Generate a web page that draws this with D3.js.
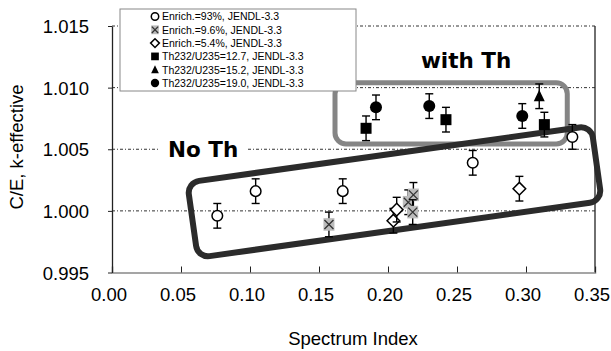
<!DOCTYPE html>
<html lang="en">
<head>
<meta charset="UTF-8">
<title>C/E k-effective vs spectrum index</title>
<script src="https://cdn.jsdelivr.net/npm/d3@7"></script>
<style>
  body { margin: 0; background: #fff; }
  text { font-family: "Liberation Sans", Arial, sans-serif; fill: #000; }
  .grid { stroke: #333; stroke-width: 1; stroke-dasharray: 3,2,1,2; }
  .bar { stroke: #000; stroke-width: 1.4; }
  .note { font-family: "DejaVu Sans", sans-serif; font-weight: bold; font-size: 21.5px; }
</style>
</head>
<body>
<svg width="611" height="351"></svg>
<script>
// data
let xTicks = [0.00, 0.05, 0.10, 0.15, 0.20, 0.25, 0.30, 0.35];
let yTicks = [0.995, 1.000, 1.005, 1.010, 1.015];

let enrich93_x = [0.0763, 0.1041, 0.1672, 0.2614, 0.3336];
let enrich93_y = [0.9996, 1.0016, 1.0016, 1.0039, 1.0060];
let enrich96_x = [0.1572, 0.2147, 0.2184, 0.2179];
let enrich96_y = [0.9989, 1.0007, 1.0013, 0.9999];
let enrich54_x = [0.2039, 0.2063, 0.2952];
let enrich54_y = [0.9992, 1.0001, 1.0018];
let th127_x = [0.1841, 0.2420, 0.3133];
let th127_y = [1.0067, 1.0074, 1.0070];
let th152_x = [0.3096];
let th152_y = [1.0093];
let th190_x = [0.1913, 0.2299, 0.2973];
let th190_y = [1.0084, 1.0085, 1.0077];
let errBar = 0.001;

let legendLabels = ["Enrich.=93%, JENDL-3.3", "Enrich.=9.6%, JENDL-3.3", "Enrich.=5.4%, JENDL-3.3",
  "Th232/U235=12.7, JENDL-3.3", "Th232/U235=15.2, JENDL-3.3", "Th232/U235=19.0, JENDL-3.3"];
let legendMarks = ["ocircle", "cross", "diamond", "square", "triangle", "circle"];

let svg = d3.select('svg');
let xScale = d3.scaleLinear().domain([0, 0.35]).range([112, 595]);
let yScale = d3.scaleLinear().domain([0.995, 1.015]).range([272.5, 26]);

// grid lines
svg.append('g').selectAll('line').data(yTicks.slice(1)).join('line')
  .attr('class', 'grid')
  .attr('x1', xScale(0)).attr('x2', xScale(0.35))
  .attr('y1', d => yScale(d)).attr('y2', d => yScale(d));

// frame
svg.append('line').attr('x1', xScale(0.35)).attr('x2', xScale(0.35))
  .attr('y1', yScale(1.015)).attr('y2', yScale(0.995)).attr('stroke', '#222').attr('stroke-width', 1.3);

let xAxis = svg.append('g').attr('transform', `translate(0,${yScale(0.995)})`)
  .call(d3.axisTop(xScale).tickValues(xTicks).tickSize(6).tickFormat(''));
xAxis.select('.domain').attr('stroke', '#888').attr('stroke-width', 1.5);
xAxis.selectAll('.tick line').attr('stroke', '#222');

svg.append('g').selectAll('text').data(xTicks).join('text')
  .attr('x', d => xScale(d) - 3).attr('y', 301)
  .attr('text-anchor', 'middle').attr('font-size', 18.5)
  .text(d => d3.format('.2f')(d));

let yAxis = svg.append('g').attr('transform', `translate(${xScale(0)},0)`)
  .call(d3.axisLeft(yScale).tickValues(yTicks).tickSize(4).tickSizeOuter(0).tickFormat(''));
yAxis.select('.domain').attr('stroke', '#222').attr('stroke-width', 1.3);
yAxis.selectAll('.tick line').attr('stroke', '#222');

svg.append('g').selectAll('text').data(yTicks).join('text')
  .attr('x', 89).attr('y', d => yScale(d) + 7)
  .attr('text-anchor', 'end').attr('font-size', 18.5)
  .text(d => d3.format('.3f')(d));

svg.append('text').attr('x', 353).attr('y', 345).attr('text-anchor', 'middle')
  .attr('font-size', 18.5).text('Spectrum Index');
svg.append('text').attr('transform', 'translate(23,147) rotate(-90)')
  .attr('text-anchor', 'middle').attr('font-size', 18.5).text('C/E, k-effective');

// annotation boxes
svg.append('rect')
  .attr('x', xScale(0.1616)).attr('y', yScale(1.0104))
  .attr('width', xScale(0.3299) - xScale(0.1616)).attr('height', yScale(1.00543) - yScale(1.0104))
  .attr('rx', 11).attr('fill', 'none').attr('stroke', '#858585').attr('stroke-width', 5);

let noThW = 408, noThH = 76;
svg.append('rect')
  .attr('transform', `translate(${xScale(0.2047)},${yScale(1.00155)}) rotate(-8)`)
  .attr('x', -noThW / 2).attr('y', -noThH / 2).attr('width', noThW).attr('height', noThH)
  .attr('rx', 12).attr('fill', 'none').attr('stroke', '#2b2b2b').attr('stroke-width', 6);

svg.append('rect').attr('x', 160).attr('y', 138).attr('width', 86).attr('height', 24).attr('fill', '#fff');
svg.append('text').attr('class', 'note').attr('x', 168).attr('y', 157).text('No Th');
svg.append('text').attr('class', 'note').attr('x', 421).attr('y', 68).text('with Th');

// marker drawing
function drawMark(g, type, s) {
  if (type === 'ocircle') {
    g.append('circle').attr('r', 5.3 * s).attr('fill', '#fff').attr('stroke', '#000').attr('stroke-width', 1.5);
  } else if (type === 'circle') {
    g.append('circle').attr('r', 6 * s).attr('fill', '#000');
  } else if (type === 'square') {
    g.append('rect').attr('x', -5.5 * s).attr('y', -5.5 * s).attr('width', 11 * s).attr('height', 11 * s).attr('fill', '#000');
  } else if (type === 'triangle') {
    g.append('path').attr('d', `M0,${-6.5 * s}L${5.5 * s},${5 * s}L${-5.5 * s},${5 * s}Z`).attr('fill', '#000');
  } else if (type === 'diamond') {
    g.append('path').attr('d', `M0,${-6.3 * s}L${6.3 * s},0L0,${6.3 * s}L${-6.3 * s},0Z`)
      .attr('fill', '#fff').attr('stroke', '#000').attr('stroke-width', 1.5);
  } else if (type === 'cross') {
    g.append('rect').attr('x', -5.5 * s).attr('y', -6.3 * s).attr('width', 11 * s).attr('height', 12.6 * s).attr('fill', '#bcbcbc');
    g.append('path').attr('d', `M${-4.5 * s},${-4.5 * s}L${4.5 * s},${4.5 * s}M${4.5 * s},${-4.5 * s}L${-4.5 * s},${4.5 * s}`)
      .attr('stroke', '#333').attr('stroke-width', 1.3);
  }
}

function drawSeries(xs, ys, type) {
  let pts = xs.map((x, i) => ({x: x, y: ys[i]}));
  let g = svg.append('g');
  pts.forEach(p => {
    let px = xScale(p.x);
    g.append('line').attr('class', 'bar').attr('x1', px).attr('x2', px)
      .attr('y1', yScale(p.y + errBar)).attr('y2', yScale(p.y - errBar));
    [p.y + errBar, p.y - errBar].forEach(v => {
      g.append('line').attr('class', 'bar').attr('x1', px - 4).attr('x2', px + 4)
        .attr('y1', yScale(v)).attr('y2', yScale(v));
    });
    drawMark(g.append('g').attr('transform', `translate(${px},${yScale(p.y)})`), type, 1);
  });
}

drawSeries(enrich93_x, enrich93_y, 'ocircle');
drawSeries(enrich96_x, enrich96_y, 'cross');
drawSeries(enrich54_x, enrich54_y, 'diamond');
drawSeries(th127_x, th127_y, 'square');
drawSeries(th152_x, th152_y, 'triangle');
drawSeries(th190_x, th190_y, 'circle');

// legend
let legend = svg.append('g');
legend.append('rect').attr('x', 120).attr('y', 9).attr('width', 236).attr('height', 82)
  .attr('fill', '#fff').attr('stroke', '#888').attr('stroke-width', 1);
legendLabels.forEach((lab, i) => {
  let cy = 16.5 + i * 13.3;
  drawMark(legend.append('g').attr('transform', `translate(155,${cy})`), legendMarks[i], 0.7);
  legend.append('text').attr('x', 162).attr('y', cy + 3.8).attr('font-size', 10.5).text(lab);
});
</script>
</body>
</html>
